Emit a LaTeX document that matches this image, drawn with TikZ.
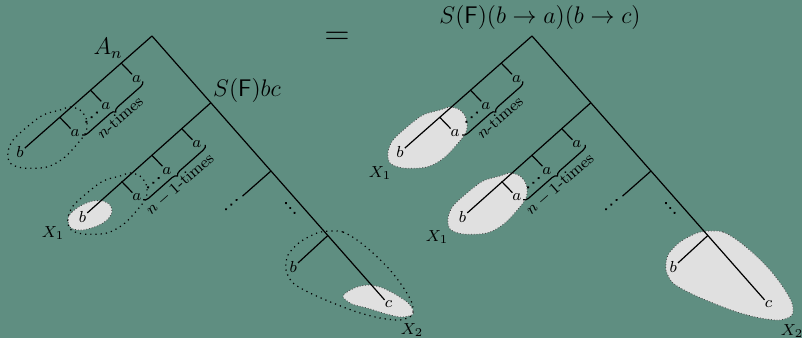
\documentclass[tikz,border=0pt]{standalone}
\usetikzlibrary{decorations.pathreplacing}

\definecolor{bgteal}{RGB}{95,142,129}
\definecolor{blobgray}{RGB}{224,224,224}

\tikzset{
    leaf/.style={font=\fontsize{7.8}{8}\selectfont, inner sep=0.3pt},
    loop/.style={draw, dotted, line width=0.6pt},
    blob/.style={fill=blobgray, draw=black!75, densely dotted, line width=0.4pt},
    bigtext/.style={font=\fontsize{11.5}{13}\selectfont},
    times/.style={font=\footnotesize, rotate=41.4, inner sep=0.5pt},
    xlab/.style={font=\footnotesize},
    braceline/.style={decorate, decoration={brace, amplitude=2.5pt}},
}

\begin{document}
\begin{tikzpicture}[x=0.5pt, y=-0.5pt, line width=0.6pt]
    \fill[bgteal] (0,0) rectangle (802,338);
    \useasboundingbox (0,0) rectangle (802,338);

    % small shaded parts on the left
    \path[blob] plot[smooth cycle] coordinates {(68,218) (72,212) (82,205) (93,201) (103,201) (110,205) (112,212) (107,220) (97,226) (83,230) (73,229) (69,225)};
    \path[blob] plot[smooth cycle] coordinates {(343,297) (347,292) (357,287) (368,285) (380,287) (393,293) (407,302) (413,310) (412,315) (400,317) (383,313) (367,308) (352,304)};

    % dotted outlines on the left, shaded on the right
    \foreach \dx/\st in {0/loop, 380/blob}{
        \begin{scope}[shift={(\dx,0)}]
            \path[\st] plot[smooth cycle] coordinates {(60,110) (70,107) (80,110) (86,118) (87,128) (83,137) (65,157) (47,167) (23,168) (10,163) (8,152) (13,140) (27,127) (43,115)};
            \path[\st, shift={(60,66)}] plot[smooth cycle] coordinates {(60,110) (70,107) (80,110) (86,118) (87,128) (83,137) (65,157) (47,167) (23,168) (10,163) (8,152) (13,140) (27,127) (43,115)};
            \path[\st] plot[smooth cycle] coordinates {(330,231) (343,232) (357,240) (373,253) (390,270) (403,287) (412,303) (412,315) (400,320) (380,318) (357,312) (333,303) (310,293) (293,283) (286,270) (288,255) (300,242) (317,233)};
        \end{scope}
    }

    % the two trees
    \foreach \side/\x in {L/152, R/532}{
        \begin{scope}[shift={(\x,36)}, x={(0.3305pt,-0.375pt)}, y={(-0.375pt,-0.3305pt)}]
            \coordinate (\side-root) at (0,0);
            \node[leaf] (\side-c) at (358,0) {$c$};
            \draw (\side-root) -- (\side-c);

            % first comb
            \node[leaf] (\side-b1) at (0,176) {$b$};
            \draw (\side-root) -- (\side-b1);
            \foreach \i/\l in {1/41, 2/82, 3/123}{
                \coordinate (\side-j\i) at (0,\l);
                \node[leaf] (\side-a\i) at (22,\l-1) {$a$};
                \draw (\side-j\i) -- (\side-a\i);
            }
            \foreach \l in {92,99,106}
                \fill (21,\l) circle[radius=1.3];
            \coordinate (\side-br1) at (28,37);
            \coordinate (\side-br2) at (28,118);
            \draw[braceline] (\side-br1) -- (\side-br2);
            \node[times] (\side-n) at (40,78) {$n$-times};

            % second comb
            \coordinate (\side-s) at (89,0);
            \node[leaf] (\side-b2) at (90,172) {$b$};
            \draw (\side-s) -- (\side-b2);
            \foreach \i/\l in {1/39, 2/79, 3/119}{
                \coordinate (\side-k\i) at (89,\l);
                \node[leaf] (\side-aa\i) at (111,\l-1) {$a$};
                \draw (\side-k\i) -- (\side-aa\i);
            }
            \foreach \l in {89,96,103}
                \fill (111,\l) circle[radius=1.3];
            \coordinate (\side-bs1) at (117,32);
            \coordinate (\side-bs2) at (117,115);
            \draw[braceline] (\side-bs1) -- (\side-bs2);
            \node[times] (\side-nn) at (130,77) {$n-1$-times};

            % further branches
            \coordinate (\side-t) at (180,0);
            \coordinate (\side-t1) at (180,38);
            \draw (\side-t) -- (\side-t1);
            \foreach \l in {45,52,59}
                \fill (179,\l) circle[radius=1.3];
            \foreach \t in {214,220.5,227}
                \fill (\t,10) circle[radius=1.3];

            \coordinate (\side-m) at (266,0);
            \node[leaf] (\side-b3) at (267,47) {$b$};
            \draw (\side-m) -- (\side-b3);
        \end{scope}
    }

    \node[bigtext] (an) at (108,48) {$A_n$};
    \node[bigtext] (sfbc) at (247,90) {$S(\mathsf{F})bc$};
    \node[font=\fontsize{19}{20}\selectfont] (eq) at (337,38) {$=$};
    \node[bigtext] (title) at (540,17) {$S(\mathsf{F})(b\to a)(b\to c)$};

    \node[xlab] (lx1) at (53,233) {$X_1$};
    \node[xlab] (lx2) at (412,330) {$X_2$};
    \node[xlab] (rx1) at (380,173) {$X_1$};
    \node[xlab] (rx1b) at (437,237) {$X_1$};
    \node[xlab] (rx2) at (792,331) {$X_2$};
\end{tikzpicture}
\end{document}
